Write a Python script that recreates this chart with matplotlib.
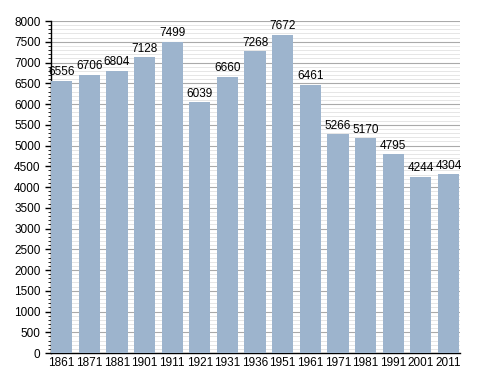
import matplotlib
matplotlib.use("Agg")
import matplotlib.pyplot as plt
import numpy as np
from matplotlib.ticker import MultipleLocator

plt.rcParams["font.family"] = ["Liberation Sans", "DejaVu Sans"]

years = ["1861", "1871", "1881", "1901", "1911", "1921", "1931", "1936",
         "1951", "1961", "1971", "1981", "1991", "2001", "2011"]
population = [6556, 6706, 6804, 7128, 7499, 6039, 6660, 7268,
              7672, 6461, 5266, 5170, 4795, 4244, 4304]

fig = plt.figure(figsize=(4.88, 3.73), dpi=100)
ax = fig.add_axes([0.1045, 0.0536, 0.838, 0.890])

x = np.arange(len(years))
w = 0.77
ax.bar(x, population, width=w, align="edge", color="#9db4cd", zorder=3)

for xi, v in zip(x, population):
    ax.text(xi + w / 2, v + 60, str(v), ha="center", va="bottom", fontsize=8.5)

ax.set_xlim(0, 14.8)
ax.set_ylim(0, 8000)
ax.set_xticks(x + w / 2)
ax.set_xticklabels(years, fontsize=8.5)
ax.yaxis.set_major_locator(MultipleLocator(500))
ax.yaxis.set_minor_locator(MultipleLocator(100))
ax.tick_params(axis="y", labelsize=8.5, length=4, width=1)
ax.tick_params(axis="y", which="minor", length=2, width=0.6)
ax.tick_params(axis="x", length=0, pad=3)

ax.grid(axis="y", which="major", color="#aaaaaa", linewidth=0.8, zorder=0)
ax.grid(axis="y", which="minor", color="#e2e2e2", linewidth=0.6, zorder=0)

for s in ["top", "right"]:
    ax.spines[s].set_visible(False)
ax.spines["left"].set_linewidth(1)
ax.spines["bottom"].set_linewidth(1)

fig.savefig("out.png", dpi=100)
